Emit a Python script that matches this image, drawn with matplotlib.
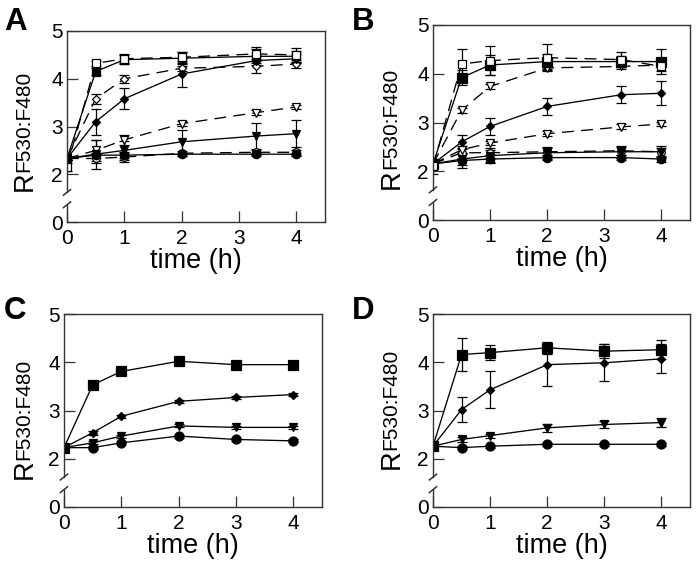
import matplotlib
matplotlib.use("Agg")
import matplotlib.pyplot as plt
import numpy as np

plt.rcParams['font.family'] = ['Liberation Sans', 'DejaVu Sans']

# ---------------- data ----------------
tA = [0, 0.5, 1, 2, 3.3, 4]
tB = [0, 0.5, 1, 2, 3.3, 4]
tC = [0, 0.5, 1, 2, 3, 4]
tD = [0, 0.5, 1, 2, 3, 4]

# Panel A
A_sq_f = [2.33, 4.15, 4.40, 4.43, 4.47, 4.47]
A_sq_f_e = [0.03, 0.08, 0.10, 0.12, 0.15, 0.12]
A_sq_o = [2.15, 4.32, 4.42, 4.45, 4.52, 4.50]
A_sq_o_e = [0.08, 0.05, 0.10, 0.12, 0.15, 0.15]
A_di_f = [2.33, 3.10, 3.58, 4.10, 4.38, 4.42]
A_di_f_e = [0.03, 0.27, 0.22, 0.27, 0.10, 0.10]
A_di_o = [2.33, 3.58, 4.00, 4.22, 4.26, 4.31]
A_di_o_e = [0.03, 0.10, 0.08, 0.05, 0.15, 0.08]
A_tr_f = [2.33, 2.42, 2.50, 2.68, 2.80, 2.85]
A_tr_f_e = [0.03, 0.30, 0.20, 0.25, 0.28, 0.28]
A_tr_o = [2.33, 2.50, 2.72, 3.06, 3.29, 3.41]
A_tr_o_e = [0.03, 0.22, 0.10, 0.05, 0.05, 0.05]
A_ci_f = [2.33, 2.40, 2.40, 2.42, 2.42, 2.42]
A_ci_f_e = [0.03, 0.05, 0.05, 0.03, 0.03, 0.03]
A_ci_o = [2.33, 2.33, 2.36, 2.44, 2.46, 2.46]
A_ci_o_e = [0.03, 0.10, 0.10, 0.05, 0.05, 0.05]

# Panel B
B_sq_f = [2.15, 3.92, 4.18, 4.25, 4.25, 4.25]
B_sq_f_e = [0.05, 0.15, 0.20, 0.15, 0.12, 0.25]
B_sq_o = [2.10, 4.20, 4.27, 4.33, 4.29, 4.15]
B_sq_o_e = [0.15, 0.30, 0.30, 0.28, 0.15, 0.10]
B_di_f = [2.15, 2.60, 2.92, 3.33, 3.57, 3.60]
B_di_f_e = [0.03, 0.15, 0.18, 0.17, 0.18, 0.25]
B_di_o = [2.15, 3.25, 3.74, 4.12, 4.15, 4.18]
B_di_o_e = [0.03, 0.05, 0.05, 0.05, 0.05, 0.05]
B_tr_o = [2.15, 2.44, 2.58, 2.77, 2.91, 2.97]
B_tr_o_e = [0.03, 0.08, 0.05, 0.05, 0.05, 0.05]
B_tr_f = [2.15, 2.25, 2.32, 2.38, 2.40, 2.40]
B_tr_f_e = [0.03, 0.12, 0.12, 0.12, 0.12, 0.12]
B_ci_f = [2.15, 2.22, 2.25, 2.28, 2.28, 2.25]
B_ci_f_e = [0.03, 0.15, 0.08, 0.05, 0.05, 0.05]
B_ci_o = [2.15, 2.38, 2.38, 2.40, 2.42, 2.40]
B_ci_o_e = [0.03, 0.10, 0.10, 0.08, 0.08, 0.08]

# Panel C
C_sq = [2.23, 3.53, 3.81, 4.02, 3.95, 3.95]
C_sq_e = [0.04, 0.06, 0.04, 0.04, 0.04, 0.04]
C_di = [2.23, 2.54, 2.88, 3.19, 3.27, 3.33]
C_di_e = [0.03, 0.04, 0.03, 0.03, 0.03, 0.03]
C_tr = [2.23, 2.33, 2.47, 2.68, 2.65, 2.65]
C_tr_e = [0.03, 0.03, 0.03, 0.03, 0.03, 0.03]
C_ci = [2.23, 2.23, 2.33, 2.47, 2.40, 2.37]
C_ci_e = [0.03, 0.03, 0.03, 0.03, 0.03, 0.03]

# Panel D
D_sq = [2.26, 4.16, 4.20, 4.30, 4.23, 4.26]
D_sq_e = [0.03, 0.35, 0.15, 0.13, 0.15, 0.20]
D_di = [2.26, 3.02, 3.43, 3.95, 3.99, 4.07]
D_di_e = [0.03, 0.25, 0.38, 0.45, 0.38, 0.30]
D_tr = [2.26, 2.40, 2.48, 2.64, 2.71, 2.75]
D_tr_e = [0.03, 0.05, 0.04, 0.08, 0.08, 0.10]
D_ci = [2.26, 2.23, 2.26, 2.30, 2.30, 2.30]
D_ci_e = [0.03, 0.03, 0.03, 0.03, 0.03, 0.03]

ytick_labels = ['0', '2', '3', '4', '5']
xtick_labels = ['0', '1', '2', '3', '4']

# ---------------- figure ----------------
W, H = 696, 565
fig = plt.figure(figsize=(W / 100, H / 100), dpi=100)

SOLID = '-'
DASH = (0, (9, 5.5))
FRAME = '#333333'


def rect(l, t, r, b):
    return [l / W, (H - b) / H, (r - l) / W, (b - t) / H]


def pos(v):
    # broken axis: values >= 2 linear, 0 mapped to 1
    v = np.asarray(v, dtype=float)
    return np.where(v >= 2, v, 1 + v / 2.0)


def series(ax, t, y, e, marker, filled, ls, ms=5.5):
    ax.errorbar(t, pos(y), yerr=e, fmt='none', ecolor='black', elinewidth=0.9,
                capsize=3.5, capthick=0.9, zorder=2)
    ax.plot(t, pos(y), linestyle=ls, color='black', lw=0.95, marker=marker,
            markersize=ms, markerfacecolor='black' if filled else 'white',
            markeredgecolor='black', markeredgewidth=0.9, zorder=3)


def style(ax):
    ax.set_xlim(0, 4.5)
    ax.set_ylim(1, 5)
    ax.set_xticks([0, 1, 2, 3, 4])
    ax.set_xticklabels(xtick_labels, fontsize=15)
    ax.set_yticks(pos([0, 2, 3, 4, 5]))
    ax.set_yticklabels(ytick_labels, fontsize=15)
    ax.tick_params(direction='in', length=8, width=0.9, color=FRAME, pad=3)
    ax.tick_params(axis='x', pad=5)
    for s in ['top', 'right', 'bottom']:
        ax.spines[s].set_color(FRAME)
        ax.spines[s].set_linewidth(1.0)
    ax.spines['left'].set_visible(False)
    tr = ax.get_yaxis_transform()
    ax.plot([0, 0], [5, 1.62], color=FRAME, lw=1.0, transform=tr, clip_on=False, zorder=5)
    ax.plot([0, 0], [1.36, 1.0], color=FRAME, lw=1.0, transform=tr, clip_on=False, zorder=5)
    for yb in (1.62, 1.36):
        ax.plot([-0.014, 0.014], [yb - 0.06, yb + 0.06], color=FRAME, lw=1.1,
                transform=tr, clip_on=False, zorder=5)
    ax.set_xlabel('time (h)', fontsize=19.5, labelpad=0)


axA = fig.add_axes(rect(67, 31, 325, 222))
axB = fig.add_axes(rect(433, 25, 690, 220))
axC = fig.add_axes(rect(64, 314, 322, 507))
axD = fig.add_axes(rect(433, 314, 690, 507))

# Panel A
series(axA, tA, A_ci_o, A_ci_o_e, 'o', False, DASH)
series(axA, tA, A_ci_f, A_ci_f_e, 'o', True, SOLID, 6)
series(axA, tA, A_tr_o, A_tr_o_e, 'v', False, DASH)
series(axA, tA, A_tr_f, A_tr_f_e, 'v', True, SOLID)
series(axA, tA, A_di_o, A_di_o_e, 'D', False, DASH, 4)
series(axA, tA, A_di_f, A_di_f_e, 'D', True, SOLID, 4)
series(axA, tA, A_sq_f, A_sq_f_e, 's', True, SOLID)
series(axA, tA, A_sq_o, A_sq_o_e, 's', False, DASH)

# Panel B
series(axB, tB, B_ci_o, B_ci_o_e, 'o', False, DASH)
series(axB, tB, B_ci_f, B_ci_f_e, 'o', True, SOLID, 6)
series(axB, tB, B_tr_f, B_tr_f_e, 'v', True, SOLID)
series(axB, tB, B_tr_o, B_tr_o_e, 'v', False, DASH)
series(axB, tB, B_di_f, B_di_f_e, 'D', True, SOLID, 4)
series(axB, tB, B_di_o, B_di_o_e, 'v', False, DASH)
series(axB, tB, B_sq_f, B_sq_f_e, 's', True, SOLID, 6.5)
series(axB, tB, B_sq_o, B_sq_o_e, 's', False, DASH)

# Panel C
series(axC, tC, C_ci, C_ci_e, 'o', True, SOLID, 6.5)
series(axC, tC, C_tr, C_tr_e, 'v', True, SOLID, 6)
series(axC, tC, C_di, C_di_e, 'D', True, SOLID, 4.5)
series(axC, tC, C_sq, C_sq_e, 's', True, SOLID, 7)

# Panel D
series(axD, tD, D_ci, D_ci_e, 'o', True, SOLID, 6.5)
series(axD, tD, D_tr, D_tr_e, 'v', True, SOLID, 6)
series(axD, tD, D_di, D_di_e, 'D', True, SOLID, 4.5)
series(axD, tD, D_sq, D_sq_e, 's', True, SOLID, 7)

for ax in (axA, axB, axC, axD):
    style(ax)

# y labels: "R" + "F530:F480" stacked along rotated baseline
labels = [  # (center x px, R bottom px from top, F bottom px from top)
    (25, 191, 172),
    (392, 189, 169),
    (25, 479, 460),
    (392, 469, 450),
]
for cx, rb, fb in labels:
    fig.text(cx / W, (H - rb) / H, 'R', rotation=90, ha='center', va='bottom', fontsize=19.5)
    fig.text((cx - 1) / W, (H - fb) / H, 'F530:F480', rotation=90, ha='center',
             va='bottom', fontsize=15)

# panel letters
for letter, x, y in [('A', 4, 7), ('B', 352, 7), ('C', 4, 296), ('D', 352, 296)]:
    fig.text(x / W, (H - y) / H, letter, ha='left', va='top', fontsize=22.5, fontweight='bold')

fig.savefig('out.png', dpi=100)
